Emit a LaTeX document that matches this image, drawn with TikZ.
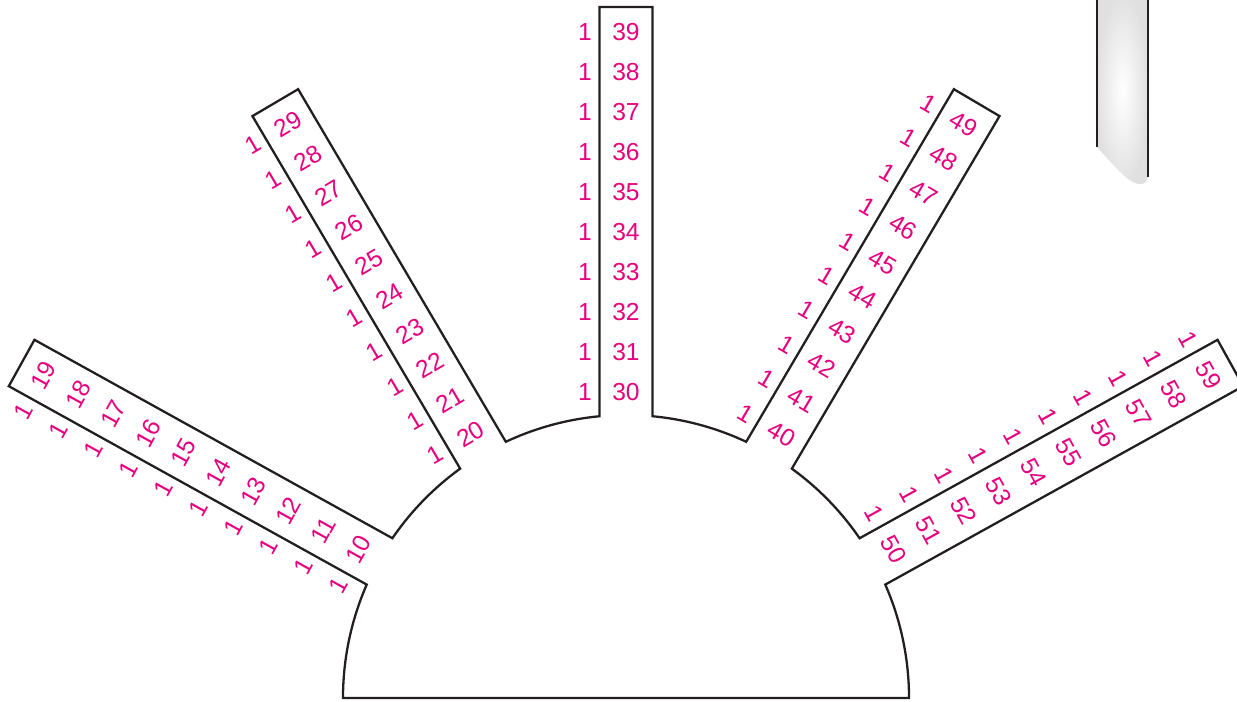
\documentclass[tikz,border=0pt]{standalone}
\usepackage{fontspec}
\setmainfont{Liberation Sans}
\usepackage{xcolor}
\definecolor{pinkink}{RGB}{230,0,126}
\definecolor{darkline}{RGB}{35,31,32}

\begin{document}
\begin{tikzpicture}[
            x=0.02cm, y=0.02cm,
            outline/.style={draw=darkline, line width=1.3pt, line join=miter},
            num/.style={text=pinkink, font=\fontsize{14}{16}\selectfont, inner sep=0pt},
            one/.style={text=pinkink, font=\fontsize{14}{16}\selectfont, inner sep=0pt}
        ]
            \useasboundingbox (-626,-3) rectangle (611,698);

            % Arms: corners and labels, arm k carries the numbers 10k ... 10k+9
            \foreach \k/\ang in {1/151, 2/120.5, 3/90, 4/59.5, 5/29} {
                \begin{scope}[rotate=\ang-90]
                    \coordinate (in\k-l) at (-26.5, 281.76);
                    \coordinate (out\k-l) at (-26.5, 691);
                    \coordinate (out\k-r) at (26.5, 691);
                    \coordinate (in\k-r) at (26.5, 281.76);
                    \foreach \j in {0,...,9} {
                        \node[num, rotate=\ang-90] (lab\k\j) at (0, 306+40*\j) {\k\j};
                        \node[one, rotate=\ang-90] (one\k\j) at (-41, 306+40*\j) {1};
                    }
                \end{scope}
            }

            % Half disc with the five arms
            \draw[outline] (-283,0) arc[start angle=180, end angle=156.37, radius=283]
                -- (out1-l) -- (out1-r) -- (in1-r)
                arc[start angle=145.63, end angle=125.87, radius=283]
                -- (out2-l) -- (out2-r) -- (in2-r)
                arc[start angle=115.13, end angle=95.37, radius=283]
                -- (out3-l) -- (out3-r) -- (in3-r)
                arc[start angle=84.63, end angle=64.87, radius=283]
                -- (out4-l) -- (out4-r) -- (in4-r)
                arc[start angle=54.13, end angle=34.37, radius=283]
                -- (out5-l) -- (out5-r) -- (in5-r)
                arc[start angle=23.63, end angle=0, radius=283] -- cycle;

            % Grey strip, top right
            \shade[inner color=white, outer color=black!12]
                (471,703) -- (471,551) .. controls (492,528) and (505,512) .. (516,514)
                .. controls (520,515) and (522,518) .. (522,521) -- (522,703) -- cycle;
            \draw[outline] (471,703) -- (471,551);
            \draw[outline] (522,703) -- (522,521);
        \end{tikzpicture}
\end{document}
